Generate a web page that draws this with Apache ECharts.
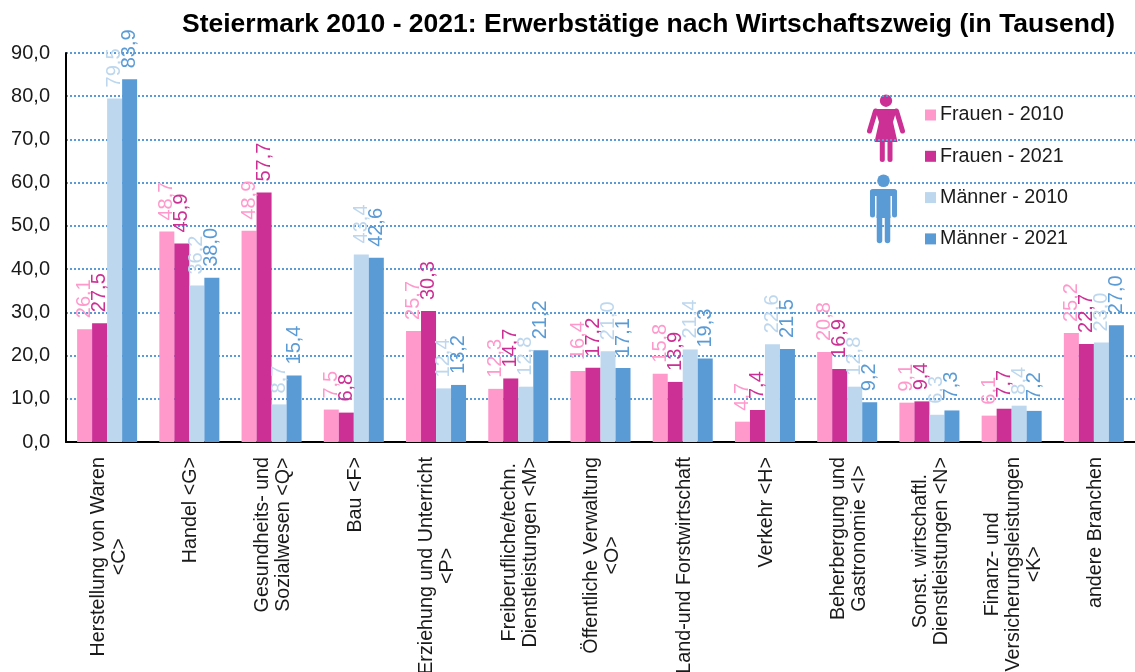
<!DOCTYPE html>
<html>
<head>
<meta charset="utf-8">
<style>
  html, body { margin: 0; padding: 0; background: #fff; overflow: hidden; }
  #chart { width: 1135px; height: 672px; }
</style>
<script src="https://cdn.jsdelivr.net/npm/echarts@6/dist/echarts.min.js"></script>
</head>
<body>
<div id="chart"></div>
<script>
const categories = [
  'Herstellung von Waren\n<C>',
  'Handel <G>',
  'Gesundheits- und\nSozialwesen <Q>',
  'Bau <F>',
  'Erziehung und Unterricht\n<P>',
  'Freiberufliche/techn.\nDienstleistungen <M>',
  'Öffentliche Verwaltung\n<O>',
  'Land-und Forstwirtschaft',
  'Verkehr <H>',
  'Beherbergung und\nGastronomie <I>',
  'Sonst. wirtschaftl.\nDienstleistungen <N>',
  'Finanz- und\nVersicherungsleistungen\n<K>',
  'andere Branchen'
]
const frauen2010 = [26.1, 48.7, 48.9, 7.5, 25.7, 12.3, 16.4, 15.8, 4.7, 20.8, 9.1, 6.1, 25.2]
const frauen2021 = [27.5, 45.9, 57.7, 6.8, 30.3, 14.7, 17.2, 13.9, 7.4, 16.9, 9.4, 7.7, 22.7]
const maenner2010 = [79.5, 36.2, 8.7, 43.4, 12.4, 12.8, 21.0, 21.4, 22.6, 12.8, 6.3, 8.4, 23.0]
const maenner2021 = [83.9, 38.0, 15.4, 42.6, 13.2, 21.2, 17.1, 19.3, 21.5, 9.2, 7.3, 7.2, 27.0]

const FONT = '"Liberation Sans", Arial, sans-serif'
const PINK_LIGHT = '#ff99cc'
const PINK = '#cc3094'
const BLUE_LIGHT = '#bdd7ee'
const BLUE = '#5b9bd5'

const comma = v => v.toFixed(1).replace('.', ',')

function barSeries(name, data, color) {
  return {
    name: name,
    type: 'bar',
    data: data,
    barGap: 0,
    barCategoryGap: '27%',
    itemStyle: { color: color },
    label: {
      show: true,
      position: 'top',
      rotate: 90,
      align: 'left',
      verticalAlign: 'middle',
      distance: 11,
      offset: [1, 0],
      color: color,
      fontFamily: FONT,
      fontSize: 20,
      formatter: p => comma(p.value)
    },
    labelLayout: { hideOverlap: false }
  }
}

function limb(points, color, width) {
  return {
    type: 'polyline',
    shape: { points: points },
    style: { stroke: color, lineWidth: width, lineCap: 'round', lineJoin: 'round', fill: null }
  }
}

// icons next to the legend, they also cut the grid lines
const icons = [
  { type: 'rect', shape: { x: 856, y: 90, width: 56, height: 76 }, style: { fill: '#fff' } },
  { type: 'circle', shape: { cx: 886, cy: 100.7, r: 6.2 }, style: { fill: PINK } },
  { type: 'polygon', shape: { points: [[875, 109], [897, 109], [893, 122], [897.5, 142], [874.5, 142], [879, 122]] }, style: { fill: PINK } },
  limb([[875.5, 111], [869.5, 131]], PINK, 5),
  limb([[896.5, 111], [902.5, 131]], PINK, 5),
  limb([[882.3, 142], [882.3, 159.5]], PINK, 5),
  limb([[890, 142], [890, 159.5]], PINK, 5),
  { type: 'rect', shape: { x: 850, y: 172, width: 58, height: 74 }, style: { fill: '#fff' } },
  { type: 'circle', shape: { cx: 883.5, cy: 180.7, r: 6.3 }, style: { fill: BLUE } },
  { type: 'rect', shape: { x: 870, y: 189, width: 27, height: 7, r: 3 }, style: { fill: BLUE } },
  { type: 'rect', shape: { x: 876.5, y: 190, width: 14, height: 28 }, style: { fill: BLUE } },
  limb([[872.5, 192], [872.5, 215]], BLUE, 5),
  limb([[894.5, 192], [894.5, 215]], BLUE, 5),
  limb([[879.5, 216], [879.5, 240.5]], BLUE, 5.5),
  limb([[887.5, 216], [887.5, 240.5]], BLUE, 5.5)
]

const chart = echarts.init(document.getElementById('chart'), null, { renderer: 'canvas' })
chart.setOption({
  animation: false,
  backgroundColor: '#fff',
  title: {
    text: 'Steiermark 2010 - 2021: Erwerbstätige nach Wirtschaftszweig (in Tausend)',
    left: 177,
    top: 6,
    textStyle: { fontFamily: FONT, fontSize: 26.5, fontWeight: 'bold', color: '#000' }
  },
  grid: { left: 66, right: 0, top: 53, bottom: 230, outerBoundsMode: 'none' },
  legend: {
    orient: 'vertical',
    left: 920,
    top: 100,
    itemWidth: 11,
    itemHeight: 11,
    itemGap: 21.3,
    icon: 'rect',
    textStyle: { fontFamily: FONT, fontSize: 19.7, color: '#1a1a1a', padding: [0, 0, 0, -1] },
    data: ['Frauen - 2010', 'Frauen - 2021', 'Männer - 2010', 'Männer - 2021']
  },
  xAxis: {
    type: 'category',
    data: categories,
    axisLine: { lineStyle: { color: '#000', width: 2 } },
    axisTick: { show: false },
    axisLabel: {
      interval: 0,
      rotate: 90,
      margin: 15,
      lineHeight: 21,
      padding: [3, 0, 0, 0],
      hideOverlap: false,
      formatter: v => v.split('\n').map(line => '{c|' + line + '}').join('\n'),
      rich: { c: { align: 'center', fontFamily: FONT, fontSize: 19.7, lineHeight: 21, color: '#1a1a1a' } }
    }
  },
  yAxis: {
    type: 'value',
    min: 0,
    max: 90,
    interval: 10,
    axisLine: { show: true, lineStyle: { color: '#000', width: 2 } },
    axisTick: { show: false },
    axisLabel: { fontFamily: FONT, fontSize: 20, color: '#1a1a1a', margin: 16, formatter: v => comma(v) },
    splitLine: { lineStyle: { color: BLUE, width: 2, type: [2, 2] } }
  },
  series: [
    barSeries('Frauen - 2010', frauen2010, PINK_LIGHT),
    barSeries('Frauen - 2021', frauen2021, PINK),
    barSeries('Männer - 2010', maenner2010, BLUE_LIGHT),
    barSeries('Männer - 2021', maenner2021, BLUE)
  ],
  graphic: { elements: icons }
})
</script>
</body>
</html>
